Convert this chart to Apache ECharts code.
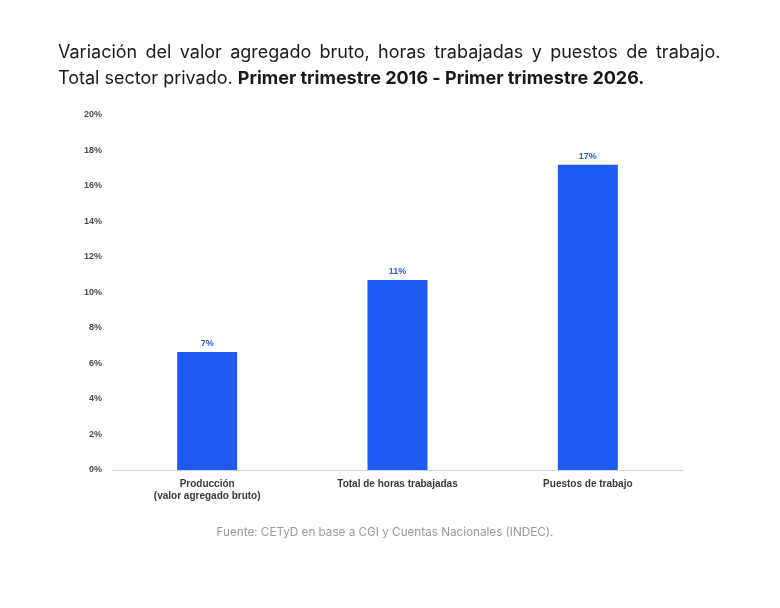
<!DOCTYPE html>
<html>
<head>
<meta charset="utf-8">
<script src="https://cdn.jsdelivr.net/npm/echarts@6/dist/echarts.min.js"></script>
<style>
html,body{margin:0;padding:0;background:#fff;}
#chart{width:780px;height:608px;}
</style>
</head>
<body>
<div id="chart"></div>
<script>
var categories = ['Producción\n(valor agregado bruto)', 'Total de horas trabajadas', 'Puestos de trabajo'];
var values = [6.65, 10.7, 17.2];
var yTicks = [0, 2, 4, 6, 8, 10, 12, 14, 16, 18, 20];

// first title line is justified in the original, so widen the gaps a bit
var titleLine1 = 'Variación del valor agregado bruto, horas trabajadas y puestos de trabajo.'.split(' ').join(' \u2009');

var chart = echarts.init(document.getElementById('chart'));

var option = {
    backgroundColor: '#ffffff',
    animation: false,
    title: [
        {
            text: titleLine1,
            left: 58,
            top: 44,
            padding: 0,
            textStyle: {
                fontFamily: 'Inter',
                fontSize: 18,
                fontWeight: 'normal',
                color: '#1a1a1a'
            }
        },
        {
            text: '{n|Total sector privado. }{b|Primer trimestre 2016 - Primer trimestre 2026.}',
            left: 58,
            top: 70,
            padding: 0,
            textStyle: {
                fontWeight: 'normal',
                rich: {
                    n: {fontFamily: 'Inter', fontSize: 18, fontWeight: 'normal', color: '#1a1a1a'},
                    b: {fontFamily: 'Inter', fontSize: 18, fontWeight: 'bold', color: '#1a1a1a'}
                }
            }
        },
        {
            text: 'Fuente: CETyD en base a CGI y Cuentas Nacionales (INDEC).',
            left: 385,
            textAlign: 'center',
            top: 526,
            padding: 0,
            textStyle: {
                fontFamily: 'Inter',
                fontSize: 11.7,
                fontWeight: 'normal',
                color: '#9a9a9a'
            }
        }
    ],
    grid: {
        left: 112,
        right: 97,
        top: 115,
        bottom: 138
    },
    xAxis: {
        type: 'category',
        data: categories,
        axisLine: {lineStyle: {color: '#d4d4d4'}},
        axisTick: {show: false},
        axisLabel: {
            fontFamily: 'Liberation Sans',
            fontSize: 10,
            fontWeight: 'bold',
            color: '#3a3a3a',
            lineHeight: 12,
            margin: 8
        }
    },
    yAxis: {
        type: 'value',
        min: yTicks[0],
        max: yTicks[yTicks.length - 1],
        interval: 2,
        splitLine: {show: false},
        axisLine: {show: false},
        axisTick: {show: false},
        axisLabel: {
            fontFamily: 'Liberation Sans',
            fontSize: 9,
            fontWeight: 'bold',
            color: '#4a4a4a',
            margin: 10,
            formatter: function (v) { return v + '%'; }
        }
    },
    series: [
        {
            type: 'bar',
            data: values,
            barWidth: 60,
            itemStyle: {color: '#1f5af6'},
            label: {
                show: true,
                position: 'top',
                distance: 4,
                fontFamily: 'Liberation Sans',
                fontSize: 9,
                fontWeight: 'bold',
                color: '#2a5bd7',
                formatter: function (p) { return Math.round(p.value) + '%'; }
            }
        }
    ]
};

chart.setOption(option);
</script>
</body>
</html>
